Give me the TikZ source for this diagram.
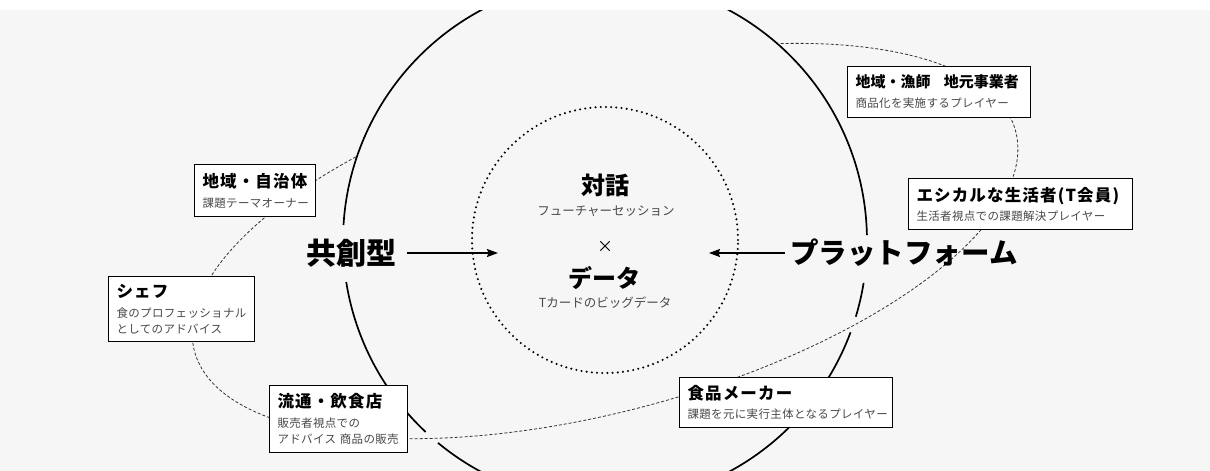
\documentclass[tikz,border=0pt]{standalone}
\usepackage{fontspec}
\setmainfont{Noto Sans CJK JP}
\newfontfamily\lsfont{Noto Sans CJK JP}[LetterSpace=7]
\newfontfamily\lssfont{Noto Sans CJK JP}[LetterSpace=3]
\usetikzlibrary{arrows.meta}
\definecolor{bg}{HTML}{F6F6F6}
\definecolor{subc}{HTML}{484848}
\definecolor{dashc}{HTML}{333333}
\newcommand{\ttl}{\lsfont\fontsize{16.5}{20}\selectfont\bfseries}
\newcommand{\sbt}{\lssfont\fontsize{11.5}{16}\selectfont}
\begin{document}
\begin{tikzpicture}[x=1pt,y=1pt,
  box/.style={draw=black, line width=1pt, fill=white, anchor=north west, align=left,
    inner xsep=8pt, inner ysep=0pt, font=\sbt, text=subc},
  bigc/.style={line width=1.7pt, black},
  dotc/.style={line width=2.3pt, dash pattern=on 0pt off 5.2pt, line cap=round},
  orbit/.style={line width=0.8pt, dashc, dash pattern=on 3pt off 2pt},
  arr/.style={line width=1.5pt, -{Stealth[length=11pt,width=8pt,inset=1.5pt]}},
  bigt/.style={font=\fontsize{30}{34}\selectfont\bfseries, inner ysep=2pt},
  ctitle/.style={font=\fontsize{24}{28}\selectfont\bfseries},
  csub/.style={font=\fontsize{12.5}{15}\selectfont, text=subc}]
\useasboundingbox (0,0) rectangle (1210,-471);
\clip (0,0) rectangle (1210,-471);
\fill[bg] (0,-10) rectangle (1210,-471);

% big circle with gaps
\draw[bigc] ([shift={(1.3:262)}]605,-241) arc[start angle=1.3, end angle=176.5, radius=262];
\draw[bigc] ([shift={(189:262)}]605,-241) arc[start angle=189, end angle=226.8, radius=262];
\draw[bigc] ([shift={(230.4:262)}]605,-241) arc[start angle=230.4, end angle=339.6, radius=262];
\draw[bigc] ([shift={(343.2:262)}]605,-241) arc[start angle=343.2, end angle=350.8, radius=262];

% dotted inner circle
\draw[dotc] (605,-240) circle[radius=133];

% orbit (dashed ellipse, hidden part behind the sphere)
\draw[orbit, rotate around={15:(605,-241)}]
  ([shift={(121:425 and 170)}]605,-241) arc[start angle=121, end angle=419, x radius=425, y radius=170];

% white top band
\fill[white] (0,0) rectangle (1210,-10);

% center texts
\node[ctitle] (taiwa) at (605,-185) {対話};
\node[csub] (future) at (606,-211) {フューチャーセッション};
\node[font=\fontsize{16}{18}\selectfont] (kakeru) at (605,-247) {×};
\node[ctitle] (data) at (604,-278) {データ};
\node[csub] (tcard) at (605,-303) {Tカードのビッグデータ};

% side labels and arrows
\node[bigt, inner xsep=10pt] (kyoso) at (351.5,-253) {共創型};
\node[bigt, inner xsep=5pt, font=\fontsize{28.5}{32}\selectfont\bfseries] (plat) at (904,-253) {プラットフォーム};
\coordinate (la) at (498,-253);
\coordinate (ra) at (709,-253);
\draw[arr] (kyoso.east) -- (kyoso.east -| la);
\draw[arr] (plat.west) -- (plat.west -| ra);

% boxes
\node[box, text width=105pt, minimum height=52pt] (jichitai) at (194,-164)
  {{\color{black}\ttl 地域・自治体}\\[4pt]課題テーマオーナー};
\node[box, text width=130pt, minimum height=65pt] (chef) at (108,-276)
  {{\color{black}\ttl シェフ}\\[4pt]食のプロフェッショナル\\としてのアドバイス};
\node[box, text width=122pt, minimum height=67pt] (ryutsu) at (269,-385)
  {{\color{black}\ttl 流通・飲食店}\\[4pt]販売者視点での\\アドバイス 商品の販売};
\node[box, text width=197pt, minimum height=50pt] (maker) at (679,-377)
  {{\color{black}\ttl 食品メーカー}\\[3pt]課題を元に実行主体となるプレイヤー};
\node[box, text width=167pt, minimum height=51pt] (ryoshi) at (847,-66)
  {\mbox{\color{black}\rmfamily\fontsize{15}{20}\selectfont\bfseries 地域・漁師\hspace{0.9em}地元事業者}\\[4pt]商品化を実施するプレイヤー};
\node[box, text width=208pt, minimum height=51pt] (ethical) at (908,-178)
  {{\color{black}\ttl エシカルな生活者(T会員)}\\[3pt]生活者視点での課題解決プレイヤー};
\end{tikzpicture}
\end{document}
